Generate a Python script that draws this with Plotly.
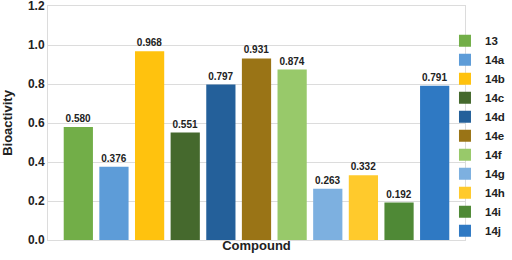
import plotly.graph_objects as go

compounds = ["13", "14a", "14b", "14c", "14d", "14e", "14f", "14g", "14h", "14i", "14j"]
values = [0.580, 0.376, 0.968, 0.551, 0.797, 0.931, 0.874, 0.263, 0.332, 0.192, 0.791]
colors = ["#72AE48", "#5D9CD8", "#FFC20E", "#45692D", "#24609A", "#9A7416",
          "#98C96A", "#7DB0E0", "#FFCA2C", "#4F8936", "#2F79C3"]
y_ticks = [0.0, 0.2, 0.4, 0.6, 0.8, 1.0, 1.2]

fig = go.Figure()
for name, v, c in zip(compounds, values, colors):
    fig.add_trace(go.Bar(
        x=["Compound"], y=[v], name=name,
        marker=dict(color=c, line=dict(width=0)),
        text=[f"{v:.3f}"], textposition="outside",
        textfont=dict(size=10, color="#222", family="Liberation Sans, Arial", weight="bold"),
        cliponaxis=False,
    ))

fig.update_layout(
    width=512, height=260,
    margin=dict(l=48, r=47, t=6, b=20, autoexpand=False),
    paper_bgcolor="white", plot_bgcolor="white",
    barmode="group", bargap=0.06, bargroupgap=0.18,
    font=dict(family="Liberation Sans, Arial", color="#222"),
    showlegend=True,
    legend=dict(x=0.952, y=0.445, yanchor="middle", xanchor="left",
                bgcolor="rgba(0,0,0,0)",
                font=dict(size=11.5, family="Liberation Sans, Arial", weight="bold"),
                itemwidth=30, tracegroupgap=0, traceorder="normal"),
)
fig.update_yaxes(
    range=[0, 1.2], tickvals=y_ticks, ticktext=[f"{t:.1f}" for t in y_ticks],
    tickfont=dict(size=12, weight="bold"), showgrid=True, gridcolor="#DCDCDC",
    showline=True, linecolor="#DCDCDC", mirror=True, zeroline=False, ticks="",
    ticklabeloverflow="allow",
    title=dict(text="<b>Bioactivity</b>", font=dict(size=13), standoff=12),
)
fig.update_xaxes(
    showticklabels=False, showline=True, linecolor="#DCDCDC", mirror=True,
    title=dict(text="<b>Compound</b>", font=dict(size=13), standoff=0),
)
fig.write_html("out.html", config={"displayModeBar": False},
               post_script="document.body.style.margin='0';")
